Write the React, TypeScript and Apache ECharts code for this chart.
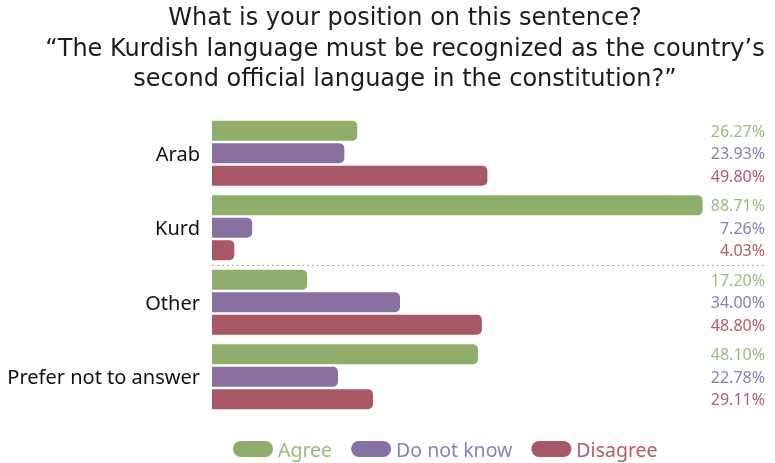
import React, { useEffect, useRef } from "react";
import * as echarts from "echarts";

const categories = ["Arab", "Kurd", "Other", "Prefer not to answer"];
const agree = [26.27, 88.71, 17.2, 48.1];
const doNotKnow = [23.93, 7.26, 34.0, 22.78];
const disagree = [49.8, 4.03, 48.8, 29.11];
const seriesNames = ["Agree", "Do not know", "Disagree"];
const barColors = ["#8fae6b", "#876fa0", "#a85864"];
const labelColors = ["#9bbb7c", "#8c80b3", "#b45a6c"];
const titleLines = [
  "What is your position on this sentence?",
  "\u201cThe Kurdish language must be recognized as the country\u2019s",
  "second official language in the constitution?\u201d",
];
// separator after the second category (between Kurd and Other)
const separatorAfter = [2];

export default function App() {
  const ref = useRef<HTMLDivElement>(null);
  useEffect(() => {
    if (!ref.current) return;
    const chart = echarts.init(ref.current, undefined, { renderer: "svg" });
    const datasets = [agree, doNotKnow, disagree];
    const series: any[] = [];
    datasets.forEach((d, i) => {
      series.push({
        name: seriesNames[i],
        type: "bar",
        stack: "s" + i,
        data: d,
        barWidth: 20,
        barGap: "12%",
        itemStyle: { color: barColors[i], borderRadius: [0, 5, 5, 0] },
      });
      series.push({
        name: seriesNames[i] + "_rest",
        type: "bar",
        stack: "s" + i,
        data: d.map((v) => 100 - v),
        barWidth: 20,
        barGap: "12%",
        itemStyle: { color: "rgba(0,0,0,0)" },
        silent: true,
        label: {
          show: true,
          position: "insideRight",
          distance: 0,
          padding: 0,
          formatter: (p: any) => d[p.dataIndex].toFixed(2) + "%",
          color: labelColors[i],
          fontSize: 16,
          fontFamily: "Noto Sans",
        },
      });
    });
    series.push({
      name: "sep",
      type: "line",
      xAxisIndex: 0,
      yAxisIndex: 1,
      data: [],
      silent: true,
      markLine: {
        silent: true,
        symbol: "none",
        label: { show: false },
        lineStyle: { type: [2, 3], color: "#aaa", width: 1 },
        data: separatorAfter.map((v) => ({ yAxis: v })),
      },
    });
    chart.setOption({
      animation: false,
      graphic: titleLines.map((t, i) => ({
        type: "text",
        x: 405,
        y: 17 + i * 30.5,
        silent: true,
        style: {
          text: t,
          textAlign: "center",
          textVerticalAlign: "middle",
          fontSize: 24,
          fontFamily: "DejaVu Sans",
          fill: "#1c1c1c",
        },
      })),
      legend: {
        bottom: 4,
        left: 233,
        padding: 0,
        icon: "path://M8,0 H32 A8,8 0 0 1 32,16 H8 A8,8 0 0 1 8,0 Z",
        itemWidth: 40,
        itemHeight: 17,
        itemGap: 19,
        textStyle: { fontSize: 19.5, fontFamily: "Noto Sans" },
        data: seriesNames.map((n, i) => ({
          name: n,
          textStyle: { color: labelColors[i] },
        })),
      },
      grid: { left: 212, right: 10, top: 116, bottom: 49 },
      xAxis: {
        type: "value",
        min: 0,
        max: 100,
        show: false,
      },
      yAxis: [
        {
          type: "category",
          data: categories,
          inverse: true,
          axisLine: { show: false },
          axisTick: { show: false },
          splitLine: { show: false },
          axisLabel: {
            fontSize: 20,
            color: "#111",
            fontFamily: "Noto Sans",
            margin: 12,
          },
        },
        {
          type: "value",
          min: 0,
          max: categories.length,
          inverse: true,
          show: false,
        },
      ],
      series,
    });
    return () => chart.dispose();
  }, []);
  return (
    <div
      ref={ref}
      style={{ position: "fixed", left: 0, top: 0, width: 775, height: 463 }}
    />
  );
}
